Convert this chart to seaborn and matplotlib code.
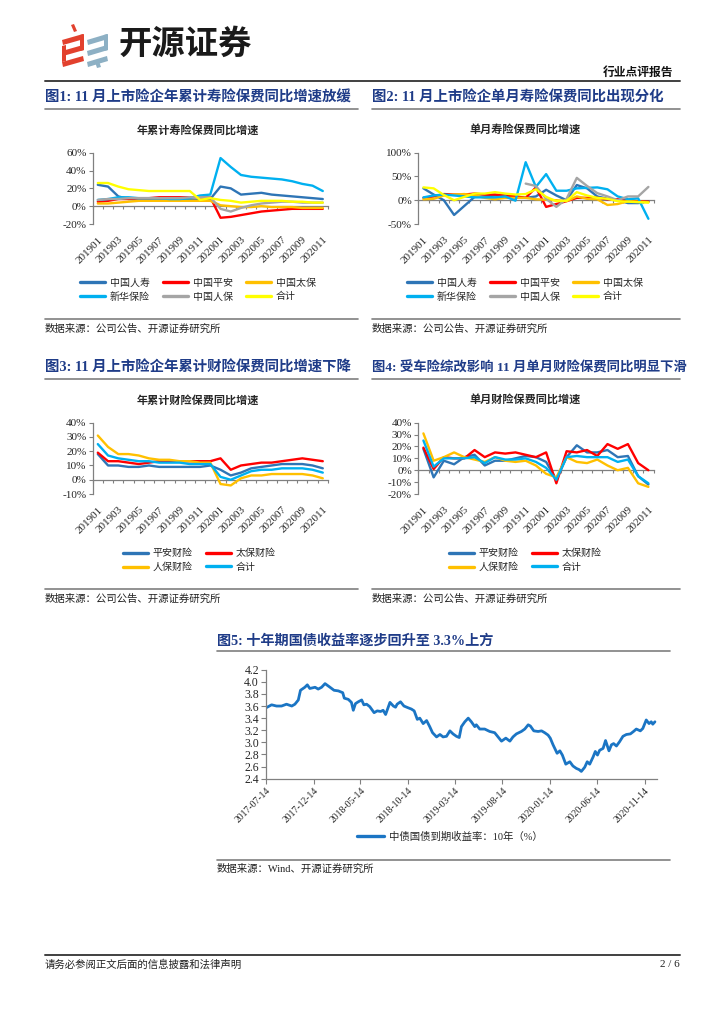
import numpy as np
import pandas as pd
import matplotlib
matplotlib.use("Agg")
import matplotlib.pyplot as plt
from matplotlib.ticker import PercentFormatter, FormatStrFormatter
from matplotlib.patches import Polygon
from matplotlib.lines import Line2D
import seaborn as sns

# ── Page size (px) ───────────────────────────────────
W, H = 724, 1024

# ── Data: months ─────────────────────────────────────
MONTHS = ["201901", "201902", "201903", "201904", "201905", "201906",
          "201907", "201908", "201909", "201910", "201911", "201912",
          "202001", "202002", "202003", "202004", "202005", "202006",
          "202007", "202008", "202009", "202010", "202011"]

# 图1 年累计寿险保费同比增速 (%)
LIFE_NAMES = ["中国人寿", "中国平安", "中国太保", "新华保险", "中国人保", "合计"]
LIFE_COLORS = ["#2E75B6", "#FF0000", "#FFC000", "#00B0F0", "#A5A5A5", "#FFFF00"]
cum_gsrs = [24, 22, 11, 8, 7, 7, 7, 7, 7, 7, 7, 8, 22, 20, 13, 14, 15, 13, 12, 11, 10, 9, 8]
cum_zgpa = [5, 6, 8, 8, 9, 9, 10, 10, 10, 10, 10, 10, -13, -12, -10, -8, -6, -5, -4, -3, -3, -3, -3]
cum_zgtb = [3, 3, 4, 5, 6, 6, 6, 6, 6, 6, 6, 6, 1, 0, -1, -1, 0, -1, -1, -1, -2, -2, -2]
cum_xhbx = [7, 8, 10, 10, 9, 9, 9, 8, 8, 9, 12, 13, 54, 44, 35, 33, 32, 31, 30, 28, 25, 23, 17]
cum_zgrb = [7, 8, 8, 9, 9, 9, 9, 9, 9, 10, 10, 10, -3, -6, -2, 1, 3, 4, 5, 5, 4, 4, 4]
cum_life_total = [26, 26, 22, 19, 18, 17, 17, 17, 17, 17, 7, 9, 7, 6, 4, 5, 6, 6, 6, 5, 5, 4, 4]

# 图2 单月寿险保费同比增速 (%)
mon_gsrs = [25, 12, 0, -31, -12, 7, 8, 10, 10, 8, 5, 8, 22, 10, 0, 32, 25, 8, 3, 0, -6, -6, -2]
mon_zgpa = [5, 8, 13, 12, 12, 14, 12, 12, 10, 8, 5, 27, -14, -8, -2, 5, 5, 5, 2, 2, 0, -2, -3]
mon_zgtb = [2, 3, 10, 12, 13, 10, 5, 2, 5, 5, 5, 2, 1, 0, -2, 8, 3, 2, -10, -8, -2, -3, -4]
mon_xhbx = [6, 10, 12, 10, 8, 6, 6, 6, 8, -1, 80, 28, 55, 20, 20, 25, 26, 27, 23, 8, 2, 4, -39]
mon_zgrb = [np.nan] * 10 + [35, 30, 3, -14, 3, 47, 30, 15, 8, 0, 8, 8, 28]
mon_life_total = [27, 25, 11, 0, 7, 14, 14, 17, 14, 12, 13, 23, 7, -2, -1, 17, 10, 5, 3, -2, -3, -4, -5]

# 图3 年累计财险保费同比增速 (%)
PC_NAMES = ["平安财险", "太保财险", "人保财险", "合计"]
PC_COLORS = ["#2E75B6", "#FF0000", "#FFC000", "#00B0F0"]
cum_pacx = [18, 10, 10, 9, 9, 10, 9, 9, 9, 9, 9, 10, 7, 3, 5, 8, 9, 10, 11, 11, 11, 10, 8]
cum_tbcx = [19, 13, 13, 12, 11, 12, 13, 13, 13, 13, 13, 13, 15, 7, 10, 11, 12, 12, 13, 14, 15, 14, 13]
cum_rbcx = [31, 23, 18, 18, 17, 15, 14, 14, 13, 13, 12, 12, -3, -4, 1, 3, 3, 4, 4, 4, 4, 3, 1]
cum_pc_total = [25, 17, 15, 14, 13, 13, 12, 12, 12, 11, 11, 11, 2, 0, 3, 6, 7, 7, 8, 8, 8, 7, 5]

# 图4 单月财险保费同比增速 (%)
mon_pacx = [18, -6, 8, 5, 11, 13, 4, 8, 8, 10, 12, 11, 7, -8, 11, 21, 15, 15, 17, 11, 12, -5, -12]
mon_tbcx = [19, 1, 11, 10, 10, 17, 11, 15, 14, 15, 13, 11, 15, -11, 16, 15, 17, 12, 22, 18, 22, 6, 0]
mon_rbcx = [31, 8, 11, 15, 11, 9, 7, 11, 8, 7, 8, 4, -3, -6, 11, 7, 6, 9, 4, 0, 2, -11, -14]
mon_pc_total = [25, 3, 10, 10, 10, 11, 6, 11, 9, 9, 10, 7, 2, -8, 11, 12, 11, 11, 11, 7, 9, -5, -11]

# 图5 中债国债到期收益率：10年 (%)
BOND_DATES = [
    "2017-07-14", "2017-08-01", "2017-08-17", "2017-09-02", "2017-09-18", "2017-10-05",
    "2017-10-15", "2017-10-26", "2017-11-02", "2017-11-16", "2017-11-24", "2017-12-02",
    "2017-12-19", "2017-12-29", "2018-01-09", "2018-01-20", "2018-02-05", "2018-02-18",
    "2018-03-04", "2018-03-18", "2018-03-23", "2018-04-05", "2018-04-15", "2018-04-21",
    "2018-04-28", "2018-05-07", "2018-05-18", "2018-05-25", "2018-06-03", "2018-06-13",
    "2018-06-27", "2018-07-07", "2018-07-18", "2018-07-26", "2018-08-03", "2018-08-17",
    "2018-08-28", "2018-09-04", "2018-09-09", "2018-09-20", "2018-10-01", "2018-10-15",
    "2018-10-25", "2018-11-03", "2018-11-13", "2018-11-21", "2018-12-02", "2018-12-13",
    "2018-12-23", "2019-01-01", "2019-01-14", "2019-01-25", "2019-02-04", "2019-02-15",
    "2019-02-26", "2019-03-08", "2019-03-19", "2019-03-28", "2019-04-04", "2019-04-15",
    "2019-04-26", "2019-05-06", "2019-05-17", "2019-05-22", "2019-06-02", "2019-06-18",
    "2019-07-04", "2019-07-20", "2019-07-31", "2019-08-11", "2019-08-25", "2019-09-07",
    "2019-09-17", "2019-09-28", "2019-10-14", "2019-10-25", "2019-11-05", "2019-11-12",
    "2019-11-23", "2019-12-07", "2019-12-18", "2019-12-28", "2020-01-08", "2020-01-15",
    "2020-01-24", "2020-02-06", "2020-02-15", "2020-02-23", "2020-03-05", "2020-03-18",
    "2020-03-28", "2020-04-08", "2020-04-17", "2020-04-24", "2020-05-05", "2020-05-13",
    "2020-05-21", "2020-06-01", "2020-06-08", "2020-06-15", "2020-06-22", "2020-07-03",
    "2020-07-11", "2020-07-22", "2020-07-30", "2020-08-06", "2020-08-15", "2020-08-25",
    "2020-09-05", "2020-09-16", "2020-09-29", "2020-10-09", "2020-10-18", "2020-10-31",
    "2020-11-08", "2020-11-19", "2020-11-28", "2020-12-05", "2020-12-10", "2020-12-17",
]
BOND_YIELD = [
    3.57, 3.62, 3.60, 3.60, 3.63, 3.60,
    3.63, 3.70, 3.86, 3.91, 3.95, 3.89,
    3.91, 3.88, 3.91, 3.97, 3.91, 3.86,
    3.85, 3.82, 3.73, 3.71, 3.66, 3.53,
    3.64, 3.67, 3.70, 3.62, 3.63, 3.59,
    3.49, 3.52, 3.51, 3.53, 3.46, 3.66,
    3.60, 3.58, 3.63, 3.67, 3.60, 3.57,
    3.55, 3.52, 3.38, 3.40, 3.31, 3.36,
    3.26, 3.16, 3.09, 3.13, 3.09, 3.10,
    3.19, 3.14, 3.10, 3.08, 3.26, 3.34,
    3.40, 3.34, 3.26, 3.29, 3.22, 3.22,
    3.18, 3.16, 3.09, 3.02, 3.07, 3.02,
    3.09, 3.14, 3.18, 3.22, 3.29, 3.27,
    3.19, 3.18, 3.19, 3.16, 3.12, 3.07,
    2.96, 2.82, 2.86, 2.79, 2.64, 2.68,
    2.61, 2.57, 2.55, 2.52, 2.59, 2.68,
    2.64, 2.76, 2.85, 2.79, 2.87, 2.90,
    3.03, 2.86, 2.96, 2.98, 2.94, 3.01,
    3.10, 3.13, 3.14, 3.18, 3.22, 3.19,
    3.23, 3.37, 3.31, 3.34, 3.30, 3.34,
]
BOND_TICKS = ["2017-07-14", "2017-12-14", "2018-05-14", "2018-10-14", "2019-03-14",
              "2019-08-14", "2020-01-14", "2020-06-14", "2020-11-14"]

# ── Style ────────────────────────────────────────────
sns.set_theme(style="white")
plt.rcParams["font.family"] = ["Liberation Serif", "Noto Sans CJK SC"]
plt.rcParams["axes.unicode_minus"] = False

NAVY = "#1F3C88"
AXC = "#808080"
RULE = "#7F7F7F"

fig = plt.figure(figsize=(W / 100, H / 100), dpi=100)
fig.patch.set_facecolor("white")


def fx(x):
    return x / W


def fy(y):
    return 1 - y / H


def px_axes(l, t, r, b):
    return fig.add_axes([fx(l), fy(b), (r - l) / W, (b - t) / H])


def hline(x0, x1, y, color=RULE, lw=1.2):
    fig.add_artist(Line2D([fx(x0), fx(x1)], [fy(y), fy(y)], transform=fig.transFigure,
                          color=color, lw=lw))


def poly(pts, color):
    fig.add_artist(Polygon([(fx(x), fy(y)) for x, y in pts], closed=True,
                           transform=fig.transFigure, facecolor=color, edgecolor="none"))


def month_chart(ax, series, names, colors, ylim, yticks):
    rows = []
    for name, vals in zip(names, series):
        for i, v in enumerate(vals):
            rows.append({"idx": i, "val": v, "name": name})
    df = pd.DataFrame(rows).dropna()
    sns.lineplot(data=df, x="idx", y="val", hue="name", hue_order=names,
                 palette=colors, estimator=None, sort=False, linewidth=1.7,
                 legend=False, ax=ax)
    ax.set_xlim(-0.5, len(MONTHS) - 0.5)
    ax.set_ylim(*ylim)
    ax.set_yticks(yticks)
    ax.yaxis.set_major_formatter(PercentFormatter(100, decimals=0))
    ax.set_xticks(range(0, len(MONTHS), 2))
    ax.set_xticklabels(MONTHS[::2], rotation=45, ha="right", va="top",
                       rotation_mode="anchor")
    ax.tick_params(axis="x", length=0, pad=8, labelsize=8)
    ax.tick_params(axis="y", length=3, direction="out", color=AXC, width=0.8,
                   labelsize=8, pad=1.5, left=True)
    ax.set_xlabel("")
    ax.set_ylabel("")
    ax.grid(False)
    ax.set_facecolor("none")
    for s in ["top", "right", "bottom"]:
        ax.spines[s].set_visible(False)
    ax.spines["left"].set_color(AXC)
    ax.spines["left"].set_linewidth(0.9)
    # category axis crossing at 0
    frac = (0 - ylim[0]) / (ylim[1] - ylim[0])
    sec = ax.secondary_xaxis(frac)
    sec.set_xticks(np.arange(-0.5, len(MONTHS), 1))
    sec.tick_params(axis="x", length=2.5, direction="out", color=AXC, width=0.8,
                    labelbottom=False, labeltop=False)
    for s in sec.spines.values():
        s.set_color(AXC)
        s.set_linewidth(0.9)


def month_legend(names, colors, ncol, cx, cy):
    handles = [Line2D([], [], color=c, lw=2.4) for c in colors]
    nrow = int(np.ceil(len(names) / ncol))
    order = [r * ncol + c for c in range(ncol) for r in range(nrow)]
    fig.legend([handles[i] for i in order], [names[i] for i in order],
               loc="center", bbox_to_anchor=(fx(cx), fy(cy)), ncol=ncol,
               frameon=False, fontsize=7.2, handlelength=2.5, handletextpad=0.5,
               columnspacing=1.3, labelspacing=0.45, borderpad=0, borderaxespad=0)


# ── Page header ──────────────────────────────────────
RED_LOGO = "#E2412E"
BLUE_LOGO = "#8DB0C4"
for y0 in (34, 45, 56):
    poly([(62, y0 + 6), (83, y0), (84, y0 + 5), (63, y0 + 11)], RED_LOGO)
    poly([(87, y0 + 6), (107, y0), (108, y0 + 5), (88, y0 + 11)], BLUE_LOGO)
poly([(71, 25), (74, 24), (77, 31), (74, 32)], RED_LOGO)
poly([(80, 35), (84, 34), (84, 50), (80, 51)], RED_LOGO)
poly([(62, 46), (66, 45), (66, 61), (62, 62)], RED_LOGO)
poly([(104, 35), (108, 34), (108, 50), (104, 51)], BLUE_LOGO)
poly([(95, 62), (99, 61), (101, 67), (97, 68)], BLUE_LOGO)
fig.text(fx(119), fy(44), "开源证券", fontsize=24, fontweight="bold",
         family="Noto Sans CJK SC", color="#1A1A1A", va="center", ha="left")

fig.text(fx(673), fy(73), "行业点评报告", fontsize=8.5, fontweight="bold",
         ha="right", va="center", color="#111111")
hline(45, 680, 80.5, color="#404040", lw=1.4)

# ── Figure headers ───────────────────────────────────
HEADERS = [
    (45, 98, "图1: 11 月上市险企年累计寿险保费同比增速放缓", 10.4),
    (372, 98, "图2: 11 月上市险企单月寿险保费同比出现分化", 10.4),
    (45, 368, "图3: 11 月上市险企年累计财险保费同比增速下降", 10.4),
    (372, 368, "图4: 受车险综改影响 11 月单月财险保费同比明显下滑", 9.6),
    (217, 641, "图5: 十年期国债收益率逐步回升至 3.3%上方", 10.2),
]
for x, y, t, fs in HEADERS:
    fig.text(fx(x), fy(y), t, fontsize=fs, fontweight="bold", color=NAVY,
             ha="left", va="center")
hline(45, 358, 108.5)
hline(372, 680, 108.5)
hline(45, 358, 378.5)
hline(372, 680, 378.5)
hline(217, 670, 651)

# chart titles
fig.text(fx(198), fy(130), "年累计寿险保费同比增速", fontsize=8, fontweight="bold",
         ha="center", va="center")
fig.text(fx(525), fy(130), "单月寿险保费同比增速", fontsize=8, fontweight="bold",
         ha="center", va="center")
fig.text(fx(198), fy(400), "年累计财险保费同比增速", fontsize=8, fontweight="bold",
         ha="center", va="center")
fig.text(fx(525), fy(400), "单月财险保费同比增速", fontsize=8, fontweight="bold",
         ha="center", va="center")

# ── Charts 1-4 ───────────────────────────────────────
ax1 = px_axes(92.7, 152.7, 327.9, 224)
month_chart(ax1, [cum_gsrs, cum_zgpa, cum_zgtb, cum_xhbx, cum_zgrb, cum_life_total],
            LIFE_NAMES, LIFE_COLORS, (-20, 60), [-20, 0, 20, 40, 60])
month_legend(LIFE_NAMES, LIFE_COLORS, 3, 198, 290)

ax2 = px_axes(418.3, 152.7, 653.5, 224)
month_chart(ax2, [mon_gsrs, mon_zgpa, mon_zgtb, mon_xhbx, mon_zgrb, mon_life_total],
            LIFE_NAMES, LIFE_COLORS, (-50, 100), [-50, 0, 50, 100])
month_legend(LIFE_NAMES, LIFE_COLORS, 3, 525, 290)

ax3 = px_axes(92.7, 422.7, 327.9, 494)
month_chart(ax3, [cum_pacx, cum_tbcx, cum_rbcx, cum_pc_total],
            PC_NAMES, PC_COLORS, (-10, 40), [-10, 0, 10, 20, 30, 40])
month_legend(PC_NAMES, PC_COLORS, 2, 199, 560.5)

ax4 = px_axes(418.3, 422.7, 653.5, 494)
month_chart(ax4, [mon_pacx, mon_tbcx, mon_rbcx, mon_pc_total],
            PC_NAMES, PC_COLORS, (-20, 40), [-20, -10, 0, 10, 20, 30, 40])
month_legend(PC_NAMES, PC_COLORS, 2, 525, 560.5)

# source lines
for x0, x1, y in [(45, 358, 319), (372, 680, 319), (45, 358, 589), (372, 680, 589)]:
    hline(x0, x1, y)
    fig.text(fx(x0), fy(y + 9.5), "数据来源：公司公告、开源证券研究所", fontsize=7.5,
             ha="left", va="center", color="#222222")

# ── Chart 5: 10Y yield ───────────────────────────────
ax5 = px_axes(266, 669.7, 656.5, 778.7)
bond = pd.DataFrame({"date": pd.to_datetime(BOND_DATES), "yield": BOND_YIELD})
sns.lineplot(data=bond, x="date", y="yield", color="#1B75C4", linewidth=2.0,
             estimator=None, ax=ax5)
ax5.set_xlim(pd.Timestamp("2017-07-14"), pd.Timestamp("2020-12-22"))
ax5.set_ylim(2.4, 4.2)
ax5.set_yticks(np.arange(2.4, 4.21, 0.2))
ax5.yaxis.set_major_formatter(FormatStrFormatter("%.1f"))
ax5.set_xticks(pd.to_datetime(BOND_TICKS))
ax5.set_xticklabels(BOND_TICKS, rotation=45, ha="right", va="top",
                    rotation_mode="anchor")
ax5.tick_params(axis="x", length=3.5, direction="out", color=AXC, width=0.8,
                labelsize=7, pad=2, bottom=True)
ax5.tick_params(axis="y", length=3.5, direction="out", color=AXC, width=0.8,
                labelsize=8.5, pad=1.5, left=True)
ax5.set_xlabel("")
ax5.set_ylabel("")
ax5.grid(False)
ax5.set_facecolor("none")
for s in ["top", "right"]:
    ax5.spines[s].set_visible(False)
for s in ["left", "bottom"]:
    ax5.spines[s].set_color(AXC)
    ax5.spines[s].set_linewidth(0.9)

fig.legend([Line2D([], [], color="#1B75C4", lw=2.4)], ["中债国债到期收益率：10年（%）"],
           loc="center", bbox_to_anchor=(fx(450), fy(837)), frameon=False,
           fontsize=7.5, handlelength=2.6, handletextpad=0.5, borderpad=0,
           borderaxespad=0)
hline(217, 670, 859.5)
fig.text(fx(217), fy(869), "数据来源：Wind、开源证券研究所", fontsize=7.5,
         ha="left", va="center", color="#222222")

# ── Footer ───────────────────────────────────────────
hline(45, 680, 955, color="#404040", lw=1.4)
fig.text(fx(45), fy(964.5), "请务必参阅正文后面的信息披露和法律声明", fontsize=7.5,
         ha="left", va="center", color="#222222")
fig.text(fx(680), fy(964.5), "2 / 6", fontsize=8, ha="right", va="center",
         color="#222222")

fig.savefig("out.png", dpi=100)
